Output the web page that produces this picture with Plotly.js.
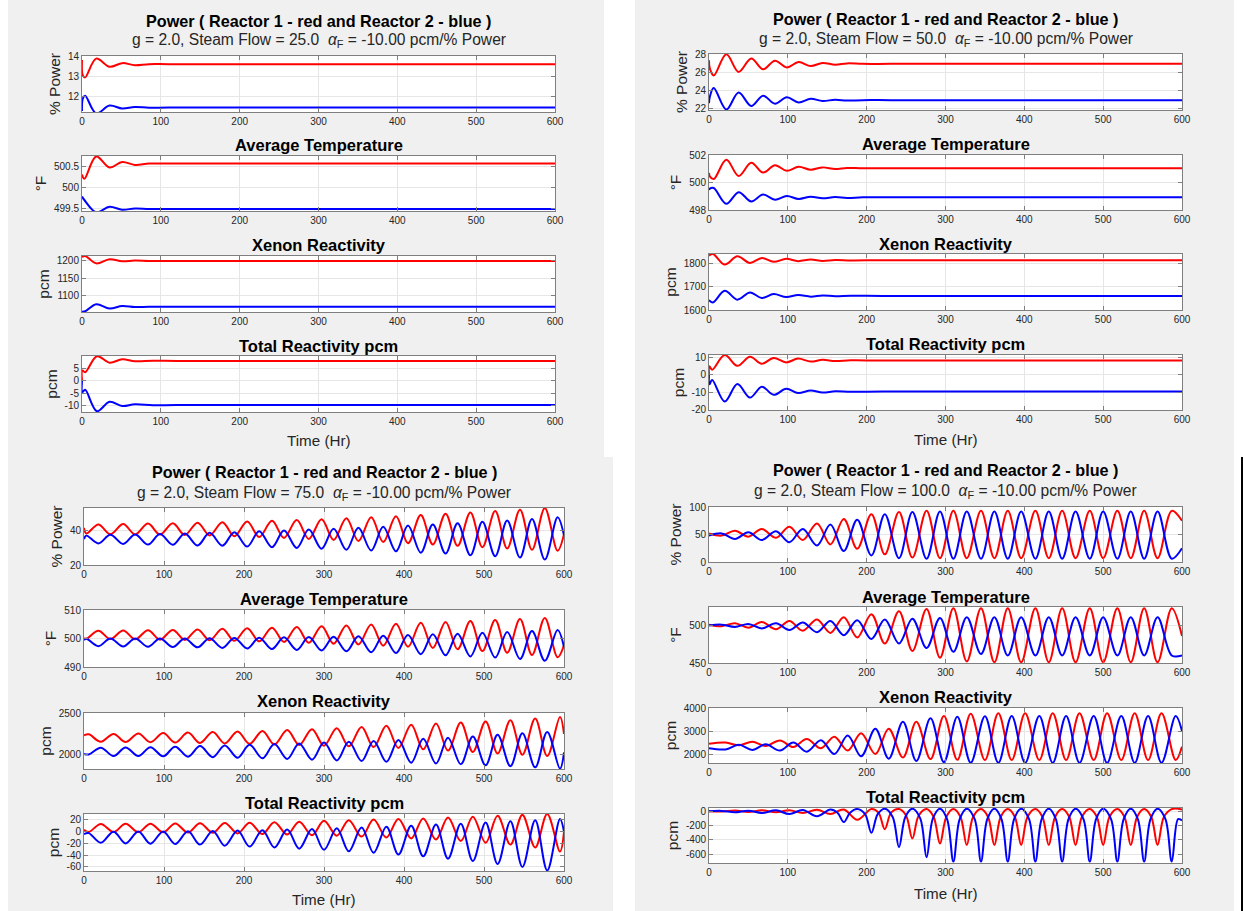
<!DOCTYPE html>
<html><head><meta charset="utf-8">
<script src="https://cdn.plot.ly/plotly-3.0.1.min.js"></script>
<style>html,body{margin:0;padding:0;background:#fff;}#chart{width:1243px;height:911px;}</style>
</head><body><div id="chart"></div>
<script>
// ---------------- DATA ----------------
const steamFlows = ['25.0', '50.0', '75.0', '100.0'];
const mainTitle = 'Power ( Reactor 1 - red and Reactor 2 - blue )';
const subTitles = ['Average Temperature', 'Xenon Reactivity', 'Total Reactivity pcm'];
const yTitles = ['% Power', '°F', 'pcm', 'pcm'];
const xTitle = 'Time (Hr)';
const xTicks = [0, 100, 200, 300, 400, 500, 600];

// Panel A : Steam Flow 25
const aPowT = [0, 1, 4, 18, 35, 51, 67, 85, 110, 300, 600];
const aPowRed = [13.8, 13.05, 12.95, 13.87, 13.47, 13.65, 13.55, 13.6, 13.6, 13.6, 13.6];
const aPowBlue = [11.3, 11.9, 12.05, 11.18, 11.57, 11.42, 11.5, 11.46, 11.47, 11.47, 11.47];
const aTmpT = [0, 3, 18, 35, 51, 67, 85, 110, 300, 600];
const aTmpRed = [500.3, 500.2, 500.73, 500.47, 500.6, 500.53, 500.56, 500.56, 500.56, 500.56];
const aTmpBlue = [499.78, 499.7, 499.41, 499.54, 499.47, 499.5, 499.49, 499.49, 499.49, 499.49];
const aXenT = [0, 4, 18, 35, 51, 67, 85, 110, 300, 600];
const aXenRed = [1211, 1214, 1193, 1205, 1199, 1201, 1200, 1200, 1200, 1200];
const aXenBlue = [1055, 1056, 1076, 1064, 1071, 1068, 1069, 1069, 1069, 1069];
const aTotT = [0, 0.5, 4, 19, 35, 51, 67, 90, 120, 300, 600];
const aTotRed = [0, 4.2, 3.5, 9.9, 7.3, 8.7, 7.9, 8.1, 8.0, 8.0, 8.0];
const aTotBlue = [0, -4.5, -3.6, -12.2, -8.4, -10.1, -9.4, -9.8, -9.7, -9.7, -9.7];

// Panel B : Steam Flow 50
const bT = [0, 1, 6, 22, 37.6, 53.6, 68.6, 83.7, 98.7, 113.7, 129, 144, 160, 175, 195, 230, 400, 600];
const bPowRed = [27.4, 26.5, 25.7, 28.07, 26.1, 27.6, 26.4, 27.35, 26.6, 27.2, 26.75, 27.1, 26.9, 27.05, 27.0, 27.0, 27.0, 27.0];
const bPowBlue = [22.6, 23.3, 24.3, 21.9, 23.8, 22.3, 23.45, 22.55, 23.27, 22.7, 23.1, 22.85, 23.0, 22.9, 22.95, 22.95, 22.95, 22.95];
const bTmpRed = [500.7, 500.45, 500.25, 501.65, 500.48, 501.44, 500.72, 501.25, 500.85, 501.15, 500.93, 501.1, 500.98, 501.06, 501.03, 501.04, 501.04, 501.04];
const bTmpBlue = [499.45, 499.55, 499.6, 498.45, 499.3, 498.62, 499.12, 498.75, 499.02, 498.8, 498.97, 498.85, 498.94, 498.88, 498.92, 498.92, 498.92, 498.92];
const bXenT = [0, 5, 20, 36, 52, 67, 82, 98, 113, 129, 144, 160, 180, 220, 400, 600];
const bXenRed = [1836, 1843, 1797, 1833, 1804, 1826, 1809, 1822, 1812, 1819, 1813, 1817, 1815, 1816, 1816, 1816];
const bXenBlue = [1643, 1633, 1683, 1645, 1676, 1652, 1669, 1656, 1665, 1658, 1663, 1660, 1662, 1661, 1661, 1661];
const bTotT = [0, 0.5, 4, 20, 36, 52, 67, 82, 98, 113, 129, 144, 160, 180, 220, 400, 600];
const bTotRed = [0, 5, 3, 11.5, 5.2, 10.5, 6.4, 9.8, 7.2, 9.4, 7.7, 8.7, 8.0, 8.4, 8.3, 8.3, 8.3];
const bTotBlue = [0, -5.5, -3, -15.5, -5.3, -13.2, -6.9, -11.6, -8.1, -10.6, -9.1, -10.3, -9.5, -9.8, -9.7, -9.7, -9.7];

// Panel C : Steam Flow 75
const cT = [0, 3, 18, 33, 49, 64, 80, 95, 111, 126, 142, 157, 173, 188, 204, 219, 235, 250, 266, 281, 297, 312, 328, 343, 359, 374, 390, 405, 421, 436, 452, 467, 483, 498, 514, 529, 545, 560, 576, 592, 600];
const cPowRed = [41.5, 38.2, 43.5, 37.8, 43.7, 37.7, 44.0, 37.6, 44.2, 37.4, 44.5, 37.1, 44.8, 36.7, 45.2, 36.2, 45.6, 35.7, 46.0, 35.1, 46.5, 34.5, 47.0, 33.9, 47.6, 33.3, 48.2, 32.6, 48.9, 31.9, 49.7, 31.1, 50.4, 30.3, 51.2, 29.6, 52.0, 28.8, 52.9, 28.2, 37.8];
const cPowBlue = [35.0, 37.0, 32.5, 37.5, 32.2, 37.7, 31.8, 37.9, 31.7, 38.2, 31.3, 38.6, 31.2, 39.0, 30.7, 39.5, 30.3, 40.0, 29.9, 40.5, 29.4, 41.0, 28.8, 41.5, 28.4, 42.1, 27.9, 42.8, 27.1, 43.5, 26.6, 44.2, 25.6, 45.0, 25.1, 45.8, 24.3, 46.7, 23.2, 47.6, 37.2];
const cTmpRed = [500.2, 499.9, 502.7, 499.8, 502.8, 499.7, 502.9, 499.6, 503.0, 499.5, 503.2, 499.4, 503.4, 499.2, 503.6, 499.0, 503.8, 498.8, 504.0, 498.5, 504.3, 498.2, 504.6, 497.9, 504.9, 497.5, 505.2, 497.1, 505.5, 496.7, 505.8, 496.2, 506.1, 495.6, 506.5, 495.0, 506.8, 494.2, 507.2, 493.4, 497.6];
const cTmpBlue = [499.5, 499.9, 497.3, 500.0, 497.2, 500.0, 497.1, 500.0, 497.0, 500.0, 496.9, 500.1, 496.7, 500.2, 496.5, 500.3, 496.3, 500.4, 496.0, 500.5, 495.8, 500.6, 495.5, 500.8, 495.2, 501.0, 494.9, 501.2, 494.5, 501.5, 494.1, 501.7, 493.7, 502.0, 493.3, 502.3, 492.8, 502.6, 492.2, 503.0, 497.0];
const cTx = [0, 6, 21, 37, 52, 68, 83, 99, 114, 130, 145, 161, 176, 192, 207, 223, 238, 254, 269, 285, 300, 316, 331, 347, 362, 378, 393, 409, 424, 440, 455, 471, 486, 502, 517, 533, 548, 564, 579, 595, 600];
const cXenRed = [2228, 2240, 2150, 2245, 2147, 2250, 2144, 2256, 2140, 2262, 2135, 2268, 2130, 2275, 2124, 2282, 2117, 2292, 2110, 2303, 2102, 2315, 2094, 2330, 2085, 2344, 2074, 2358, 2058, 2372, 2042, 2385, 2026, 2398, 2008, 2412, 1992, 2432, 1976, 2452, 2245];
const cXenBlue = [2000, 1995, 2077, 1976, 2080, 1975, 2084, 1972, 2090, 1968, 2097, 1962, 2105, 1955, 2113, 1948, 2121, 1940, 2130, 1932, 2140, 1923, 2150, 1915, 2160, 1905, 2170, 1895, 2185, 1885, 2200, 1875, 2215, 1863, 2235, 1852, 2252, 1838, 2270, 1822, 2020];
const cTotRed = [3, -0.5, 13, -0.5, 13.3, -0.8, 13.6, -1, 14, -1.5, 14.3, -2, 14.7, -3, 15.3, -4, 16, -5, 17, -6, 18.5, -7, 19.5, -8.5, 20.5, -10, 21.5, -11.5, 22.5, -13.5, 24, -16, 25.5, -19, 27, -22, 28.5, -27, 30, -34, 0];
const cTotBlue = [-4, -2.5, -19, 0, -20, 0.2, -20.5, 0.4, -21, 0.7, -22, 1.2, -24, 1.8, -25.5, 2.5, -27, 3.5, -29, 4.5, -31, 5.7, -33.5, 7, -36, 8.5, -39, 10, -42, 12, -46, 13.5, -50, 15.5, -55, 17.5, -60, 19.5, -66, 21.5, 0];

// Panel D : Steam Flow 100
const dT = [0, 16, 33, 50, 67, 85, 102, 119, 137, 154, 171, 188, 206, 223, 241, 258, 276, 293, 310, 327, 345, 362, 379, 396, 414, 431, 448, 465, 483, 500, 518, 535, 552, 569, 587, 600];
const dPowRed = [52, 48, 57, 46, 60, 44, 64, 40, 70, 32, 78, 24, 87, 14, 91, 8, 93, 7, 93, 7, 93, 7, 93, 7, 93, 7, 93, 7, 93, 7, 93, 7, 93, 7, 93, 75];
const dPowBlue = [48, 52, 42, 54, 40, 56, 36, 60, 30, 68, 20, 77, 12, 87, 7, 91, 6, 92, 6, 92, 6, 92, 6, 92, 6, 92, 6, 92, 6, 92, 6, 92, 6, 92, 6, 25];
const dTmpRed = [501, 499, 503, 497, 504.5, 495, 506, 493, 508, 490, 511, 484, 515, 476, 519, 466, 522, 457, 523, 452, 523, 451, 523, 451, 523, 451, 523, 451, 523, 451, 523, 451, 523, 451, 523, 486];
const dTmpBlue = [500, 501, 498, 502, 496, 503, 494, 504, 491, 506, 487, 507, 482, 508, 476, 509, 470, 510, 465, 511, 462, 511, 460, 511, 460, 511, 460, 511, 460, 511, 460, 511, 460, 511, 460, 460];
const dTx = [0, 21, 38, 55, 72, 90, 107, 124, 142, 159, 176, 193, 211, 228, 246, 263, 281, 298, 315, 332, 350, 367, 384, 401, 419, 436, 453, 470, 488, 505, 523, 540, 557, 574, 592, 600];
const dXenRed = [2450, 2500, 2380, 2530, 2350, 2590, 2300, 2650, 2250, 2750, 2150, 2900, 2000, 3100, 1850, 3400, 1780, 3650, 1750, 3750, 1740, 3770, 1740, 3770, 1740, 3770, 1740, 3770, 1740, 3770, 1740, 3770, 1740, 3770, 1740, 2320];
const dXenBlue = [2250, 2200, 2400, 2180, 2420, 2150, 2500, 2100, 2600, 2000, 2800, 1900, 3100, 1800, 3400, 1700, 3550, 1650, 3620, 1620, 3640, 1620, 3650, 1620, 3650, 1620, 3650, 1620, 3650, 1620, 3650, 1620, 3650, 1620, 3650, 3000];
const dTotRedT = [0, 16, 33, 50, 67, 85, 102, 119, 137, 154, 171, 188, 206, 215, 223, 231, 241, 250, 258, 266, 276, 285, 293, 301, 310, 319, 327, 335, 345, 354, 362, 370, 379, 388, 396, 404, 414, 423, 431, 439, 448, 457, 465, 473, 483, 492, 500, 508, 518, 527, 535, 543, 552, 561, 569, 577, 587, 600];
const dTotRed = [0, -5, 10, -10, 12, -15, 15, -25, 20, -40, 25, -120, 30, -20, -250, -20, 30, -60, -380, -60, 30, -80, -450, -80, 30, -80, -470, -80, 30, -80, -470, -80, 30, -80, -470, -80, 30, -80, -470, -80, 30, -80, -470, -80, 30, -80, -470, -80, 30, -80, -470, -80, 30, -80, -470, -80, 30, 25];
const dTotBlueT = [0, 16, 33, 50, 67, 85, 102, 119, 137, 154, 163, 171, 179, 188, 198, 206, 214, 223, 233, 241, 249, 258, 268, 276, 284, 293, 302, 310, 318, 327, 337, 345, 353, 362, 371, 379, 387, 396, 406, 414, 422, 431, 440, 448, 456, 465, 475, 483, 491, 500, 510, 518, 526, 535, 544, 552, 560, 569, 579, 587, 595, 600];
const dTotBlue = [0, 5, -15, 8, -25, 12, -40, 18, -70, 25, -20, -150, -20, 30, -40, -300, -40, 35, -80, -500, -80, 35, -100, -640, -100, 35, -110, -700, -110, 35, -110, -700, -110, 35, -110, -700, -110, 35, -110, -700, -110, 35, -110, -700, -110, 35, -110, -700, -110, 35, -110, -700, -110, 35, -110, -700, -110, 35, -110, -700, -110, -130];

// Axis ranges / ticks per panel (Power, Temperature, Xenon, Total)
const yRangeA = [[11.25, 14], [499.44, 500.74], [1054, 1214], [-12.5, 10]];
const yTickA = [[12, 13, 14], [499.5, 500, 500.5], [1100, 1150, 1200], [-10, -5, 0, 5]];
const yRangeB = [[21.85, 28.1], [498, 502], [1600, 1843], [-20.4, 11.5]];
const yTickB = [[22, 24, 26, 28], [498, 500, 502], [1600, 1700, 1800], [-20, -10, 0, 10]];
const yRangeC = [[20, 53], [490, 510], [1818, 2500], [-67, 30]];
const yTickC = [[20, 40], [490, 500, 510], [2000, 2500], [-60, -40, -20, 0, 20]];
const yRangeD = [[0, 100], [450, 524.5], [1610, 4000], [-720, 45]];
const yTickD = [[0, 50, 100], [450, 500], [2000, 3000, 4000], [-600, -400, -200, 0]];

// ---------------- BUILD ----------------
const W = 1243, H = 911;
const fx = px => px / W, fy = py => 1 - py / H;
const FONT = 'Liberation Sans, Arial, Helvetica, sans-serif';
const RED = '#ff0000', BLUE = '#0000ff';

const panels = [
  {x: [82, 555], y: [[56,112],[156,211],[256,312],[356,412]], tY: [21, 40], sY: [145, 245, 346], timeY: 441,
   series: [[aPowT, aPowRed, aPowT, aPowBlue], [aTmpT, aTmpRed, aTmpT, aTmpBlue], [aXenT, aXenRed, aXenT, aXenBlue], [aTotT, aTotRed, aTotT, aTotBlue]],
   ranges: yRangeA, ticks: yTickA},
  {x: [709, 1182], y: [[54,110],[155,210],[254,310],[355,410]], tY: [19, 39], sY: [144, 244, 344], timeY: 439,
   series: [[bT, bPowRed, bT, bPowBlue], [bT, bTmpRed, bT, bTmpBlue], [bXenT, bXenRed, bXenT, bXenBlue], [bTotT, bTotRed, bTotT, bTotBlue]],
   ranges: yRangeB, ticks: yTickB},
  {x: [84, 564], y: [[508,565],[610,667],[713,769],[814,871]], tY: [472, 493], sY: [599, 701, 803], timeY: 899,
   series: [[cT, cPowRed, cT, cPowBlue], [cT, cTmpRed, cT, cTmpBlue], [cTx, cXenRed, cTx, cXenBlue], [cTx, cTotRed, cTx, cTotBlue]],
   ranges: yRangeC, ticks: yTickC},
  {x: [709, 1182], y: [[507,562],[607,663],[708,763],[808,863]], tY: [470, 491], sY: [597, 697, 797], timeY: 893,
   series: [[dT, dPowRed, dT, dPowBlue], [dT, dTmpRed, dT, dTmpBlue], [dTx, dXenRed, dTx, dXenBlue], [dTotRedT, dTotRed, dTotBlueT, dTotBlue]],
   ranges: yRangeD, ticks: yTickD}
];

const traces = [];
const layout = {
  width: W, height: H, margin: {l: 0, r: 0, t: 0, b: 0},
  paper_bgcolor: '#ffffff', plot_bgcolor: 'rgba(0,0,0,0)',
  showlegend: false, font: {family: FONT, color: '#262626'},
  shapes: [], annotations: []
};

const grayRects = [[8, 0, 604, 457], [8, 457, 613, 911], [635, 0, 1234, 911]];
grayRects.forEach(r => layout.shapes.push({type: 'rect', xref: 'paper', yref: 'paper', layer: 'below',
  x0: fx(r[0]), x1: fx(r[2]), y0: fy(r[3]), y1: fy(r[1]), fillcolor: '#f0f0f0', line: {width: 0}}));
layout.shapes.push({type: 'rect', xref: 'paper', yref: 'paper', layer: 'below',
  x0: fx(1241), x1: fx(1243), y0: fy(911), y1: fy(457), fillcolor: '#000000', line: {width: 0}});

function ann(text, px, py, size, color) {
  layout.annotations.push({text, xref: 'paper', yref: 'paper', x: fx(px), y: fy(py),
    xanchor: 'center', yanchor: 'middle', showarrow: false, font: {family: FONT, size, color: color || '#000000'}});
}

panels.forEach((P, p) => {
  const cx = (P.x[0] + P.x[1]) / 2;
  ann('<b>' + mainTitle + '</b>', cx, P.tY[0], 16.2);
  ann('g = 2.0, Steam Flow = ' + steamFlows[p] + '\u00a0\u00a0<i>α</i><sub>F</sub> = -10.00 pcm/% Power', cx, P.tY[1], 15.6, '#262626');
  subTitles.forEach((t, i) => ann('<b>' + t + '</b>', cx, P.sY[i], 16.5));
  ann(xTitle, cx, P.timeY, 15.2, '#262626');

  for (let s = 0; s < 4; s++) {
    const n = p * 4 + s + 1;
    const xa = 'x' + (n === 1 ? '' : n), ya = 'y' + (n === 1 ? '' : n);
    const box = P.y[s];
    layout.shapes.push({type: 'rect', xref: 'paper', yref: 'paper', layer: 'below',
      x0: fx(P.x[0]), x1: fx(P.x[1]), y0: fy(box[1]), y1: fy(box[0]), fillcolor: '#ffffff', line: {width: 0}});
    const ser = P.series[s];
    traces.push({x: ser[0], y: ser[1], xaxis: xa, yaxis: ya, type: 'scatter', mode: 'lines',
      line: {color: RED, width: 2, shape: 'spline', smoothing: 1}, hoverinfo: 'skip'});
    traces.push({x: ser[2], y: ser[3], xaxis: xa, yaxis: ya, type: 'scatter', mode: 'lines',
      line: {color: BLUE, width: 2, shape: 'spline', smoothing: 1}, hoverinfo: 'skip'});
    const common = {showline: true, mirror: 'ticks', linecolor: '#7f7f7f', linewidth: 1,
      ticks: 'inside', ticklen: 4, tickcolor: '#7f7f7f', showgrid: true, gridcolor: '#e6e6e6', gridwidth: 1,
      zeroline: false, tickfont: {family: FONT, size: 10, color: '#262626'}, automargin: false, fixedrange: true};
    layout[n === 1 ? 'xaxis' : 'xaxis' + n] = Object.assign({}, common, {
      domain: [fx(P.x[0]), fx(P.x[1])], anchor: ya, range: [0, 600],
      tickmode: 'array', tickvals: xTicks, ticktext: xTicks.map(String)});
    const tv = P.ticks[s];
    layout[n === 1 ? 'yaxis' : 'yaxis' + n] = Object.assign({}, common, {
      domain: [fy(box[1]), fy(box[0])], anchor: xa, range: P.ranges[s],
      tickmode: 'array', tickvals: tv, ticktext: tv.map(String),
      title: {text: yTitles[s], font: {family: FONT, size: 15.5, color: '#262626'}, standoff: 3}});
  }
});

Plotly.newPlot('chart', traces, layout, {staticPlot: true, displayModeBar: false});
</script></body></html>
